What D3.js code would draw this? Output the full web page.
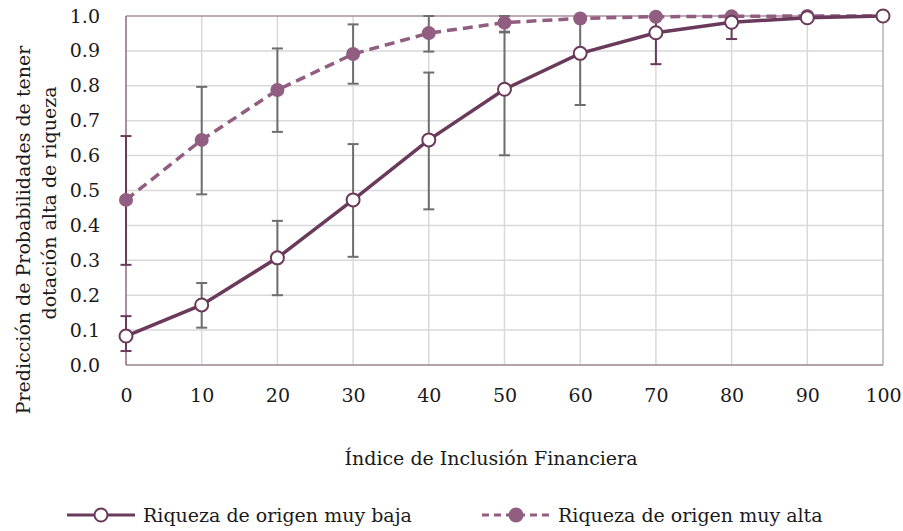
<!DOCTYPE html>
<html>
<head>
<meta charset="utf-8">
<script src="https://cdn.jsdelivr.net/npm/d3@7"></script>
<style>
  body { margin: 0; background: #fff; }
  svg text { font-family: "DejaVu Serif", serif; fill: #1a1a1a; }
</style>
</head>
<body>
<div id="chart"></div>
<script>
// data
const xValues = [0, 10, 20, 30, 40, 50, 60, 70, 80, 90, 100];
const yTicks = [0, 0.1, 0.2, 0.3, 0.4, 0.5, 0.6, 0.7, 0.8, 0.9, 1.0];

const lowName = "Riqueza de origen muy baja";
const lowValues = [0.083, 0.172, 0.307, 0.473, 0.645, 0.79, 0.893, 0.952, 0.982, 0.995, 1.0];
const lowUpper  = [0.14, 0.235, 0.413, 0.633, 0.838, 0.953, 1.0, 1.0, 1.0, 1.0, 1.0];
const lowLower  = [0.04, 0.107, 0.2, 0.31, 0.446, 0.601, 0.745, 0.862, 0.934, 0.985, 1.0];

const highName = "Riqueza de origen muy alta";
const highValues = [0.473, 0.645, 0.788, 0.891, 0.951, 0.981, 0.993, 0.998, 0.999, 1.0, 1.0];
const highUpper  = [0.656, 0.797, 0.907, 0.976, 1.0, 1.0, 1.0, 1.0, 1.0, 1.0, 1.0];
const highLower  = [0.287, 0.489, 0.668, 0.806, 0.898, 0.955, 0.985, 0.995, 0.998, 1.0, 1.0];

const xTitle = "Índice de Inclusión Financiera";
const yTitle = ["Predicción de Probabilidades de tener", "dotación alta de riqueza"];

const W = 903, H = 531;
const plot = {left: 126, right: 883, top: 16, bottom: 365};
const fontSize = 19;

const lowColor = "#6a3a5b";
const highColor = "#915d80";
const errColor = "#6e6e6e";
const axisColor = "#8e6a82";

const svg = d3.select("#chart").append("svg")
    .attr("width", W)
    .attr("height", H);

const x = d3.scaleLinear().domain([0, 100]).range([plot.left, plot.right]);
const y = d3.scaleLinear().domain([0, 1]).range([plot.bottom, plot.top]);

// gridlines
svg.append("g")
    .selectAll("line")
    .data(yTicks.slice(1, -1))
    .enter().append("line")
    .attr("x1", plot.left).attr("x2", plot.right)
    .attr("y1", d => y(d)).attr("y2", d => y(d))
    .attr("stroke", "#d9d9d9").attr("stroke-width", 1.5);

svg.append("g")
    .selectAll("line")
    .data(xValues.slice(1, -1))
    .enter().append("line")
    .attr("x1", d => x(d)).attr("x2", d => x(d))
    .attr("y1", plot.top).attr("y2", plot.bottom)
    .attr("stroke", "#d9d9d9").attr("stroke-width", 1.5);

// plot border
svg.append("line").attr("x1", plot.right).attr("x2", plot.right).attr("y1", plot.top).attr("y2", plot.bottom)
    .attr("stroke", "#b5b5b5").attr("stroke-width", 1.5);
svg.append("line").attr("x1", plot.left).attr("x2", plot.right).attr("y1", plot.top).attr("y2", plot.top)
    .attr("stroke", "#a98fa0").attr("stroke-width", 1.5);
svg.append("line").attr("x1", plot.left).attr("x2", plot.right).attr("y1", plot.bottom).attr("y2", plot.bottom)
    .attr("stroke", "#9c8392").attr("stroke-width", 1.5);
svg.append("line").attr("x1", plot.left).attr("x2", plot.left).attr("y1", plot.top).attr("y2", plot.bottom)
    .attr("stroke", axisColor).attr("stroke-width", 1.5);

// error bars (the ones sitting on the axis, and the late low ones, read as plum)
function errorBars(lower, upper, colorAt) {
    const g = svg.append("g").attr("stroke-width", 2);
    xValues.forEach((xv, i) => {
        if (upper[i] - lower[i] < 0.002) return;
        const c = colorAt(xv);
        g.append("line")
            .attr("stroke", c)
            .attr("x1", x(xv)).attr("x2", x(xv))
            .attr("y1", y(lower[i])).attr("y2", y(upper[i]));
        [lower[i], upper[i]].forEach(v => {
            g.append("line")
                .attr("stroke", c)
                .attr("x1", x(xv) - 5.5).attr("x2", x(xv) + 5.5)
                .attr("y1", y(v)).attr("y2", y(v));
        });
    });
}
errorBars(lowLower, lowUpper, xv => (xv === 0 || xv >= 70) ? lowColor : errColor);
errorBars(highLower, highUpper, xv => xv === 0 ? lowColor : errColor);

const line = d3.line()
    .x((d, i) => x(xValues[i]))
    .y(d => y(d));

// high series: dashed line, filled markers
svg.append("path")
    .datum(highValues)
    .attr("d", line)
    .attr("fill", "none")
    .attr("stroke", highColor)
    .attr("stroke-width", 3.5)
    .attr("stroke-dasharray", "10,6");

// low series: solid line, open markers
svg.append("path")
    .datum(lowValues)
    .attr("d", line)
    .attr("fill", "none")
    .attr("stroke", lowColor)
    .attr("stroke-width", 3.5);

svg.append("g")
    .selectAll("circle")
    .data(highValues)
    .enter().append("circle")
    .attr("cx", (d, i) => x(xValues[i]))
    .attr("cy", d => y(d))
    .attr("r", 7)
    .attr("fill", highColor);

svg.append("g")
    .selectAll("circle")
    .data(lowValues)
    .enter().append("circle")
    .attr("cx", (d, i) => x(xValues[i]))
    .attr("cy", d => y(d))
    .attr("r", 6.5)
    .attr("fill", "#fff")
    .attr("stroke", lowColor)
    .attr("stroke-width", 2);

// axes (labels only)
const yAxis = d3.axisLeft(y).tickValues(yTicks).tickFormat(d3.format(".1f")).tickSize(0).tickPadding(26);
svg.append("g")
    .attr("transform", `translate(${plot.left},0)`)
    .call(yAxis)
    .call(g => g.select(".domain").remove())
    .selectAll("text")
    .attr("font-size", fontSize)
    .attr("font-family", "DejaVu Serif");

const xAxis = d3.axisBottom(x).tickValues(xValues).tickSize(0).tickPadding(24);
svg.append("g")
    .attr("transform", `translate(0,${plot.bottom})`)
    .call(xAxis)
    .call(g => g.select(".domain").remove())
    .selectAll("text")
    .attr("font-size", fontSize)
    .attr("font-family", "DejaVu Serif");

// titles
svg.append("text")
    .attr("x", 491).attr("y", 465)
    .attr("text-anchor", "middle")
    .attr("font-size", fontSize)
    .text(xTitle);

svg.append("text")
    .attr("transform", "translate(30,230) rotate(-90)")
    .attr("text-anchor", "middle")
    .attr("font-size", fontSize)
    .text(yTitle[0]);
svg.append("text")
    .attr("transform", "translate(56,203) rotate(-90)")
    .attr("text-anchor", "middle")
    .attr("font-size", fontSize)
    .text(yTitle[1]);

// legend
const legend = [
    {name: lowName, color: lowColor, x0: 67, dash: null, open: true},
    {name: highName, color: highColor, x0: 482, dash: "7,5", open: false}
];
legend.forEach(l => {
    const g = svg.append("g").attr("transform", `translate(${l.x0},515)`);
    g.append("line")
        .attr("x1", 0).attr("x2", 68)
        .attr("stroke", l.color).attr("stroke-width", 3)
        .attr("stroke-dasharray", l.dash);
    g.append("circle")
        .attr("cx", 34).attr("r", l.open ? 6.5 : 7.5)
        .attr("fill", l.open ? "#fff" : l.color)
        .attr("stroke", l.open ? l.color : "none")
        .attr("stroke-width", 2);
    g.append("text")
        .attr("x", 76).attr("y", 7)
        .attr("font-size", fontSize)
        .text(l.name);
});
</script>
</body>
</html>
